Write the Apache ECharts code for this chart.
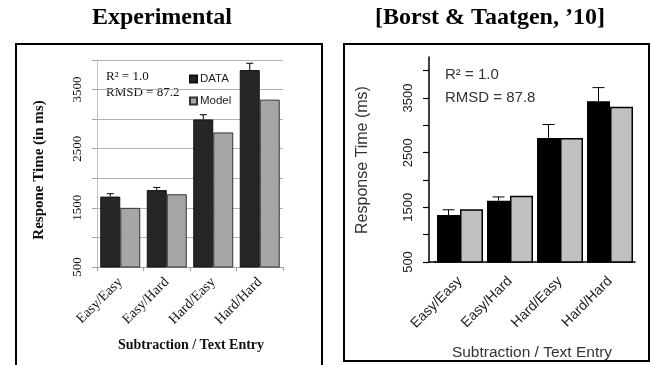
<!DOCTYPE html>
<html>
<head>
<meta charset="utf-8">
<script src="https://cdn.jsdelivr.net/npm/echarts@6/dist/echarts.min.js"></script>
<style>html,body{margin:0;padding:0;background:#fff}#c{width:651px;height:365px}</style>
</head>
<body>
<div id="c"></div>
<script>
// ---- data ----
const categories = ['Easy/Easy', 'Easy/Hard', 'Hard/Easy', 'Hard/Hard'];
// Experimental panel
const expData = [1690, 1800, 2995, 3830];
const expDataErrTop = [1740, 1845, 3075, 3945];
const expModel = [1500, 1730, 2775, 3330];
// Borst & Taatgen panel
const btData = [1360, 1620, 2770, 3440];
const btDataErrTop = [1455, 1690, 3015, 3690];
const btModel = [1465, 1710, 2770, 3340];
// axis labels
const expYLabels = [500, 1500, 2500, 3500];
const btYTicks = [500, 1000, 1500, 2000, 2500, 3000, 3500, 4000];
const btYLabels = [500, 1500, 2500, 3500];

const SERIF = '"Liberation Serif", "Times New Roman", serif';
const SANS = '"Liberation Sans", Arial, sans-serif';

const gapL = 0.14, gapR = 0.08;

function errItem(gap, capHalf) {
  return function (params, api) {
    const cat = api.value(0);
    const top = api.value(1);
    const base = api.value(2);
    const p0 = api.coord([cat, base]);
    const p1 = api.coord([cat, top]);
    const band = api.size([1, 0])[0];
    const barW = band * (1 - gap) / 2;
    const x = p0[0] - barW / 2;
    return {
      type: 'group',
      children: [
        {type: 'line', shape: {x1: x, y1: p0[1], x2: x, y2: p1[1]}, style: {stroke: '#000', lineWidth: 1}},
        {type: 'line', shape: {x1: x - capHalf, y1: p1[1], x2: x + capHalf, y2: p1[1]}, style: {stroke: '#000', lineWidth: 1}}
      ]
    };
  };
}

const plain = v => String(v);

const chart = echarts.init(document.getElementById('c'), null, {renderer: 'canvas'});
chart.setOption({
  animation: false,
  backgroundColor: '#fff',
  legend: {
    data: ['DATA', 'Model'],
    orient: 'vertical',
    left: 184, top: 68,
    itemWidth: 7, itemHeight: 7, itemGap: 10,
    icon: 'rect',
    textStyle: {fontFamily: SANS, fontSize: 11.5, color: '#222', padding: [0, 0, 0, -2]}
  },
  grid: [
    {left: 97, top: 60, width: 186, height: 207},
    {left: 435, top: 57, width: 200, height: 205}
  ],
  xAxis: [
    {
      type: 'category', gridIndex: 0, data: categories,
      axisLine: {lineStyle: {color: '#a0a0a0', width: 1}},
      axisTick: {show: true, length: 4, lineStyle: {color: '#a0a0a0'}},
      axisLabel: {rotate: 45, margin: 13, fontFamily: SERIF, fontSize: 14, color: '#111', interval: 0}
    },
    {
      type: 'category', gridIndex: 1, data: categories,
      axisLine: {lineStyle: {color: '#000', width: 1.5}},
      axisTick: {show: false},
      axisLabel: {rotate: 45, margin: 17, fontFamily: SANS, fontSize: 14, color: '#222', interval: 0}
    }
  ],
  yAxis: [
    {
      type: 'value', gridIndex: 0, min: 500, max: 4000, interval: 500,
      axisLine: {show: true, lineStyle: {color: '#c0c0c0'}},
      axisTick: {show: true, length: 5, lineStyle: {color: '#a0a0a0'}},
      splitLine: {show: true, lineStyle: {color: '#b0b0b0', width: 1}},
      axisLabel: {
        rotate: 90, margin: 13, fontFamily: SERIF, fontSize: 13, color: '#111',
        customValues: expYLabels, formatter: plain
      }
    },
    {
      type: 'value', gridIndex: 1, min: 500, max: 4250, offset: 6,
      axisLine: {show: true, lineStyle: {color: '#000', width: 1.5}},
      axisTick: {show: true, length: 6, lineStyle: {color: '#000', width: 1.2}, customValues: btYTicks},
      splitLine: {show: false},
      axisLabel: {
        rotate: 90, margin: 14, fontFamily: SANS, fontSize: 13, color: '#222',
        customValues: btYLabels, formatter: plain
      }
    }
  ],
  series: [
    {
      name: 'DATA', type: 'bar', xAxisIndex: 0, yAxisIndex: 0, data: expData,
      barGap: '0%', barCategoryGap: (gapL * 100) + '%',
      itemStyle: {color: '#262626', borderColor: '#111', borderWidth: 1}
    },
    {
      name: 'Model', type: 'bar', xAxisIndex: 0, yAxisIndex: 0, data: expModel,
      barGap: '0%', barCategoryGap: (gapL * 100) + '%',
      itemStyle: {color: '#a6a6a6', borderColor: '#333', borderWidth: 1}
    },
    {
      type: 'custom', xAxisIndex: 0, yAxisIndex: 0, z: 5,
      renderItem: errItem(gapL, 3.5),
      data: categories.map((c, i) => [i, expDataErrTop[i], expData[i]])
    },
    {
      name: 'BT DATA', type: 'bar', xAxisIndex: 1, yAxisIndex: 1, data: btData,
      barGap: '0%', barCategoryGap: (gapR * 100) + '%',
      itemStyle: {color: '#000', borderColor: '#000', borderWidth: 1.5}
    },
    {
      name: 'BT Model', type: 'bar', xAxisIndex: 1, yAxisIndex: 1, data: btModel,
      barGap: '0%', barCategoryGap: (gapR * 100) + '%',
      itemStyle: {color: '#c0c0c0', borderColor: '#000', borderWidth: 1.5}
    },
    {
      type: 'custom', xAxisIndex: 1, yAxisIndex: 1, z: 5,
      renderItem: errItem(gapR, 6),
      data: categories.map((c, i) => [i, btDataErrTop[i], btData[i]])
    }
  ],
  graphic: [
    {type: 'rect', shape: {x: 16, y: 44, width: 306, height: 340}, style: {fill: 'none', stroke: '#000', lineWidth: 2}, z: 0},
    {type: 'rect', shape: {x: 344, y: 44, width: 305, height: 317}, style: {fill: 'none', stroke: '#000', lineWidth: 2}, z: 0},
    {type: 'line', shape: {x1: 428.5, y1: 262, x2: 436, y2: 262}, style: {stroke: '#000', lineWidth: 1.5}, z: 3},
    {type: 'text', x: 162, y: 18, style: {text: 'Experimental', fontFamily: SERIF, fontWeight: 'bold', fontSize: 24, fill: '#000', align: 'center', verticalAlign: 'middle'}},
    {type: 'text', x: 490, y: 18, style: {text: '[Borst & Taatgen, \u201910]', fontFamily: SERIF, fontWeight: 'bold', fontSize: 24, fill: '#000', align: 'center', verticalAlign: 'middle'}},
    {type: 'text', x: 106, y: 77, style: {text: 'R\u00b2 = 1.0', fontFamily: SERIF, fontSize: 13, fill: '#111', align: 'left', verticalAlign: 'middle'}},
    {type: 'text', x: 106, y: 93, style: {text: 'RMSD = 87.2', fontFamily: SERIF, fontSize: 13, fill: '#111', align: 'left', verticalAlign: 'middle'}},
    {type: 'text', x: 39, y: 170, rotation: Math.PI / 2, style: {text: 'Respone Time (in ms)', fontFamily: SERIF, fontWeight: 'bold', fontSize: 15, fill: '#111', align: 'center', verticalAlign: 'middle'}},
    {type: 'text', x: 191, y: 345, style: {text: 'Subtraction / Text Entry', fontFamily: SERIF, fontWeight: 'bold', fontSize: 14, fill: '#111', align: 'center', verticalAlign: 'middle'}},
    {type: 'text', x: 445, y: 75, style: {text: 'R\u00b2 = 1.0', fontFamily: SANS, fontSize: 15, fill: '#333', align: 'left', verticalAlign: 'middle'}},
    {type: 'text', x: 445, y: 98, style: {text: 'RMSD = 87.8', fontFamily: SANS, fontSize: 15, fill: '#333', align: 'left', verticalAlign: 'middle'}},
    {type: 'text', x: 363, y: 160, rotation: Math.PI / 2, style: {text: 'Response Time (ms)', fontFamily: SANS, fontSize: 16, fill: '#333', align: 'center', verticalAlign: 'middle'}},
    {type: 'text', x: 532, y: 353, style: {text: 'Subtraction / Text Entry', fontFamily: SANS, fontSize: 15.5, fill: '#333', align: 'center', verticalAlign: 'middle'}}
  ]
});
</script>
</body>
</html>
